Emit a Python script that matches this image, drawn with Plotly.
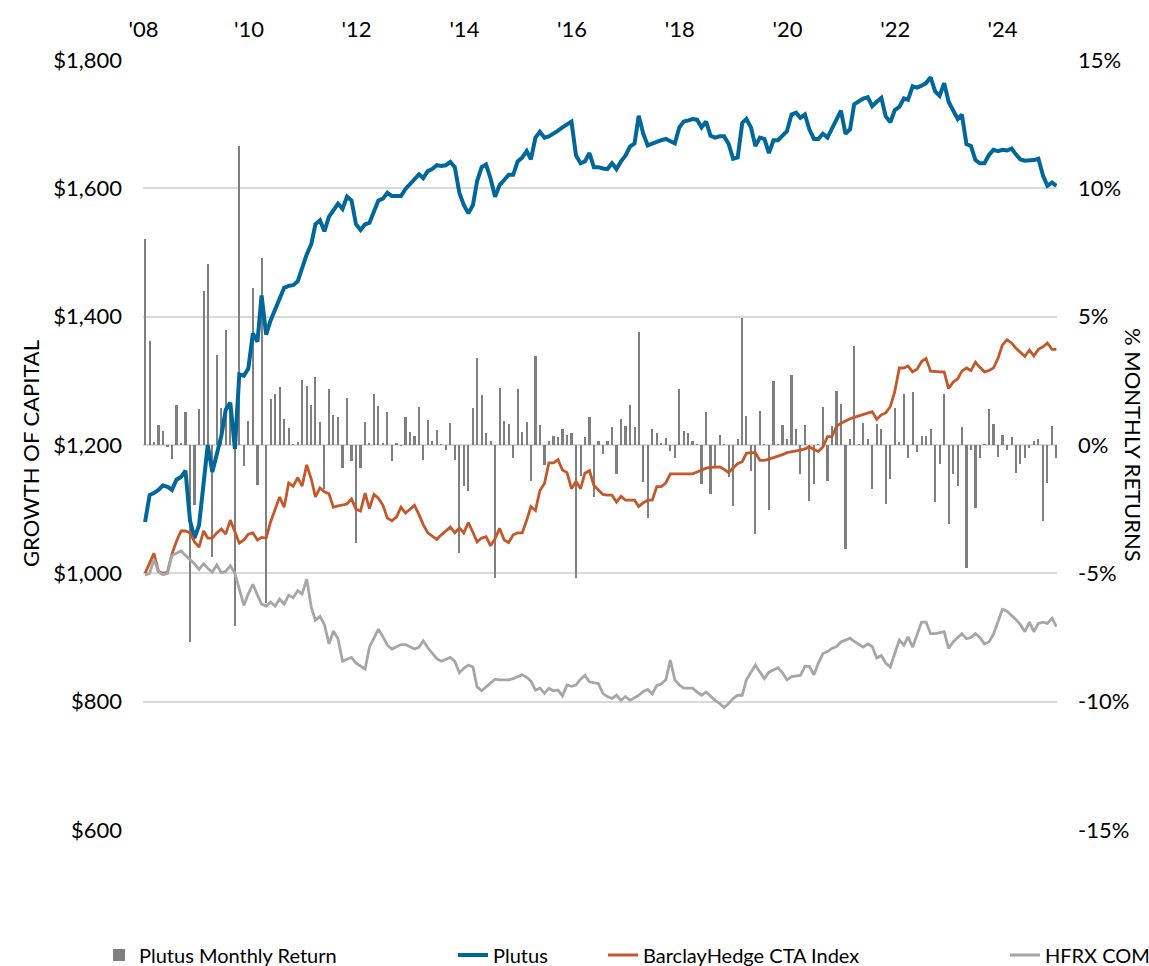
import pandas as pd
import plotly.graph_objects as go

# ---------------- data ----------------
MONTHS = pd.date_range("2008-01-01", periods=204, freq="MS")

PLUTUS_MONTHLY_RETURN = [
    8.04, 4.05, 0.10, 0.76, 0.55, -0.05, -0.53, 1.54, 0.06, 1.30,
    -7.68, -2.34, 1.42, 6.00, 7.04, -4.35, 3.50, 1.44, 4.47, 1.65,
    -7.06, 11.65, -0.80, 0.95, 6.13, -1.57, 7.30, -6.15, 1.79, 1.97,
    2.25, 1.00, 0.68, 0.03, 0.12, 2.55, 2.31, 1.55, 2.65, 0.88,
    -1.71, 2.18, 1.17, 1.09, -0.91, 1.82, -0.63, -3.80, -0.91, 0.91,
    0.05, 1.99, 1.51, 0.05, 1.29, -0.63, 0.08, -0.02, 1.09, 0.51,
    0.35, 1.48, -0.60, 0.97, 0.14, 0.58, 0.02, -0.20, 0.86, -0.57,
    -4.20, -1.60, -1.80, 1.43, 3.40, 1.94, 0.48, 0.14, -5.20, 2.22,
    0.94, 0.82, -0.52, 2.20, 0.51, 0.91, -1.40, 3.48, 0.78, -0.78,
    0.14, 0.37, 0.32, 0.63, 0.40, 0.48, -5.20, -1.20, 0.32, 1.09,
    -2.03, 0.14, -0.34, 0.14, 0.71, -1.14, 1.02, 0.75, 1.55, 0.71,
    4.40, -1.45, -2.83, 0.63, 0.48, 0.05, 0.28, -0.22, -0.52, 2.20,
    0.55, 0.48, 0.17, 0.02, -1.50, 1.28, -1.91, -0.84, 0.38, 0.02,
    -1.25, -2.37, 0.25, 4.94, 1.12, -1.00, -3.46, 1.32, 0.02, -2.53,
    2.48, 0.02, 0.78, 0.25, 2.74, 0.63, -1.12, 0.79, -2.20, -1.50,
    0.02, 1.50, -1.39, 0.75, 2.10, 1.58, -4.07, 0.22, 3.86, 0.02,
    0.87, 0.25, -1.73, 0.83, 0.64, -2.31, -1.31, 1.43, 0.13, 2.00,
    -0.49, 2.08, -0.27, 0.35, 0.34, 0.61, -2.22, -0.75, 1.98, -3.09,
    -1.12, -1.61, 0.71, -4.80, -0.20, -2.44, -0.52, 0.02, 1.42, 0.81,
    -0.45, 0.38, -0.20, 0.31, -1.08, -0.73, -0.49, -0.10, 0.16, 0.22,
    -2.96, -1.47, 0.74, -0.50,
]

PLUTUS = [
    1080, 1122, 1125, 1130, 1137, 1135, 1130, 1146, 1150, 1160,
    1082, 1055, 1075, 1140, 1200, 1158, 1189, 1214, 1255, 1266,
    1194, 1310, 1308, 1319, 1374, 1361, 1433, 1372, 1394, 1412,
    1430, 1445, 1448, 1449, 1455, 1478, 1497, 1513, 1544, 1550,
    1533, 1556, 1565, 1576, 1568, 1587, 1581, 1544, 1535, 1544,
    1546, 1565, 1581, 1584, 1593, 1588, 1588, 1588, 1599, 1607,
    1615, 1622, 1616, 1627, 1630, 1636, 1635, 1636, 1641, 1633,
    1593, 1574, 1561, 1574, 1611, 1633, 1637, 1615, 1587, 1605,
    1613, 1621, 1621, 1642, 1648, 1658, 1645, 1679, 1688, 1679,
    1681, 1685, 1690, 1695, 1700, 1704, 1651, 1639, 1642, 1655,
    1633, 1633, 1631, 1630, 1639, 1630, 1642, 1651, 1665, 1670,
    1713, 1685, 1667, 1670, 1673, 1675, 1677, 1674, 1670, 1695,
    1704, 1706, 1708, 1707, 1695, 1704, 1682, 1679, 1681, 1681,
    1669, 1646, 1648, 1702, 1708, 1695, 1666, 1679, 1677, 1655,
    1675, 1675, 1682, 1689, 1715, 1718, 1710, 1715, 1692, 1677,
    1677, 1685, 1679, 1692, 1708, 1721, 1685, 1692, 1731, 1735,
    1740, 1742, 1728, 1735, 1741, 1712, 1703, 1722, 1727, 1740,
    1738, 1759, 1757, 1760, 1764, 1773, 1751, 1744, 1764, 1735,
    1721, 1708, 1715, 1669, 1666, 1644, 1639, 1639, 1652, 1660,
    1658, 1660, 1659, 1662, 1653, 1645, 1643, 1643, 1644, 1646,
    1620, 1604, 1609, 1604,
]

BARCLAY_CTA = [
    1000, 1015, 1031, 1003, 1000, 1002, 1030, 1050, 1066, 1066,
    1063, 1049, 1041, 1066, 1055, 1055, 1063, 1069, 1061, 1083,
    1063, 1047, 1052, 1061, 1063, 1052, 1056, 1055, 1080, 1100,
    1119, 1103, 1141, 1136, 1149, 1136, 1169, 1147, 1119, 1133,
    1127, 1124, 1103, 1105, 1107, 1108, 1116, 1100, 1097, 1125,
    1101, 1123, 1117, 1106, 1086, 1082, 1088, 1103, 1094, 1100,
    1106, 1091, 1076, 1063, 1058, 1053, 1060, 1066, 1072, 1063,
    1071, 1063, 1079, 1064, 1049, 1055, 1057, 1043, 1054, 1070,
    1052, 1048, 1060, 1063, 1063, 1083, 1104, 1098, 1129, 1140,
    1172, 1172, 1177, 1161, 1157, 1132, 1143, 1132, 1156, 1160,
    1137, 1130, 1123, 1122, 1122, 1111, 1120, 1114, 1114, 1114,
    1104, 1110, 1114, 1114, 1135, 1135, 1141, 1155, 1155, 1155,
    1155, 1155, 1155, 1158, 1161, 1164, 1165, 1166, 1166, 1162,
    1157, 1164, 1171, 1174, 1187, 1188, 1188, 1176, 1176, 1178,
    1180, 1182, 1185, 1188, 1189, 1190, 1192, 1194, 1197, 1193,
    1190, 1197, 1213, 1213, 1229, 1234, 1238, 1241, 1243, 1245,
    1247, 1249, 1252, 1240, 1247, 1250, 1260, 1283, 1320, 1320,
    1323, 1314, 1318, 1330, 1335, 1315, 1314, 1314, 1314, 1288,
    1298, 1303, 1315, 1320, 1316, 1329, 1321, 1314, 1316, 1320,
    1335, 1356, 1364, 1359, 1351, 1345, 1338, 1348, 1339, 1349,
    1353, 1359, 1349, 1349,
]

HFRX_COM = [
    997, 1000, 1022, 1002, 998, 1000, 1028, 1031, 1035, 1028,
    1022, 1015, 1006, 1015, 1008, 1002, 1013, 1001, 1003, 1012,
    1000, 977, 950, 968, 983, 966, 952, 949, 955, 949,
    960, 952, 966, 962, 973, 968, 991, 947, 927, 933,
    920, 890, 910, 898, 863, 866, 869, 860, 855, 851,
    885, 900, 913, 901, 888, 882, 886, 889, 889, 886,
    882, 885, 895, 884, 876, 867, 863, 866, 869, 863,
    845, 852, 857, 854, 823, 817, 823, 829, 835, 834,
    834, 834, 836, 839, 842, 838, 832, 818, 821, 813,
    821, 817, 818, 809, 826, 824, 826, 835, 841, 831,
    829, 828, 813, 808, 805, 810, 802, 808, 802, 806,
    810, 816, 819, 812, 825, 828, 834, 865, 834, 826,
    821, 821, 821, 815, 810, 815, 808, 802, 797, 791,
    797, 805, 810, 810, 834, 845, 857, 846, 836, 846,
    850, 853, 845, 834, 839, 840, 841, 855, 855, 842,
    860, 875, 878, 883, 886, 893, 896, 899, 894, 890,
    885, 890, 886, 868, 872, 860, 854, 875, 896, 888,
    901, 885, 905, 924, 924, 906, 906, 907, 909, 883,
    893, 900, 906, 898, 900, 906, 900, 890, 893, 905,
    925, 944, 941, 935, 928, 920, 909, 924, 909, 922,
    924, 922, 930, 917,
]

X_TICK_DATES = ["2007-12-22", "2009-12-05", "2011-12-05", "2013-12-05", "2015-12-05",
                "2017-12-05", "2019-12-05", "2021-12-05", "2023-12-01"]
X_TICK_LABELS = ["'08", "'10", "'12", "'14", "'16", "'18", "'20", "'22", "'24"]
LEFT_TICKS = [600, 800, 1000, 1200, 1400, 1600, 1800]
LEFT_TICK_LABELS = ["$600", "$800", "$1,000", "$1,200", "$1,400", "$1,600", "$1,800"]
RIGHT_TICKS = [-15, -10, -5, 0, 5, 10, 15]
RIGHT_TICK_LABELS = ["-15%", "-10%", "-5%", "0%", "5%", "10%", "15%"]

# ---------------- styling ----------------
FONT = "Lato, 'DejaVu Sans', sans-serif"
W, H = 1149, 966
L, R, T, B = 143, 92, 60, 136
PW, PH = W - L - R, H - T - B

fig = go.Figure()
fig.add_trace(go.Bar(
    x=MONTHS, y=PLUTUS_MONTHLY_RETURN, name="Plutus Monthly Return",
    marker=dict(color="#7f7f7f", line=dict(width=0)), width=1.25e9,
    yaxis="y", legend="legend", hoverinfo="skip",
))
fig.add_trace(go.Scatter(
    x=MONTHS, y=PLUTUS, name="Plutus", mode="lines",
    line=dict(color="#00679b", width=4), yaxis="y2", legend="legend2",
))
fig.add_trace(go.Scatter(
    x=MONTHS, y=BARCLAY_CTA, name="BarclayHedge CTA Index", mode="lines",
    line=dict(color="#c4582a", width=2.8), yaxis="y2", legend="legend3",
))
fig.add_trace(go.Scatter(
    x=MONTHS, y=HFRX_COM, name="HFRX COM", mode="lines",
    line=dict(color="#a6a6a6", width=2.8), yaxis="y2", legend="legend4",
))

def legend_at(text_left):
    return dict(
        x=(text_left - 41) / W, y=1 - 955 / H, xref="container", yref="container",
        xanchor="left", yanchor="middle", orientation="h",
        font=dict(family=FONT, size=20, color="#000"),
        bgcolor="rgba(0,0,0,0)", borderwidth=0,
    )

fig.update_layout(
    width=W, height=H,
    margin=dict(l=L, r=R, t=T, b=B, pad=0),
    plot_bgcolor="white", paper_bgcolor="white",
    font=dict(family=FONT, size=22, color="#000"),
    bargap=0,
    xaxis=dict(
        type="date", side="top", range=["2007-12-18", "2024-12-05"],
        tickvals=X_TICK_DATES, ticktext=X_TICK_LABELS,
        showgrid=False, zeroline=False, showline=False, ticks="",
        ticklabelstandoff=18,
    ),
    yaxis=dict(
        side="right", range=[-15, 15],
        tickvals=RIGHT_TICKS, ticktext=RIGHT_TICK_LABELS,
        showgrid=True, gridcolor="#d9d9d9", gridwidth=1.5,
        zeroline=False, showline=False, ticks="", ticklabelstandoff=20,
    ),
    yaxis2=dict(
        side="left", overlaying="y", range=[600, 1800],
        tickvals=LEFT_TICKS, ticktext=LEFT_TICK_LABELS,
        showgrid=False, zeroline=False, showline=False, ticks="",
        ticklabelstandoff=20,
    ),
    showlegend=True,
    legend=legend_at(140),
    legend2=legend_at(494),
    legend3=legend_at(644),
    legend4=legend_at(1046),
    annotations=[
        dict(text="GROWTH OF CAPITAL", xref="paper", yref="paper",
             x=(30 - L) / PW, y=(H - B - 454) / PH, textangle=-90,
             showarrow=False, xanchor="center", yanchor="middle",
             font=dict(family=FONT, size=22, color="#000")),
        dict(text="% MONTHLY RETURNS", xref="paper", yref="paper",
             x=(1134 - L) / PW, y=(H - B - 445) / PH, textangle=90,
             showarrow=False, xanchor="center", yanchor="middle",
             font=dict(family=FONT, size=22, color="#000")),
    ],
)

fig.write_html("out.html", config={"displayModeBar": False},
               post_script="document.body.style.margin='0';")
